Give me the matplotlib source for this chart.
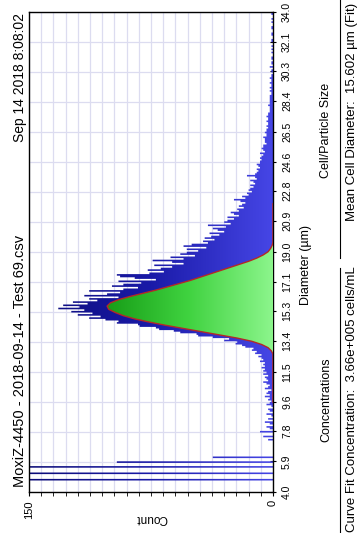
import numpy as np
import matplotlib.pyplot as plt
from matplotlib.colors import LinearSegmentedColormap
from matplotlib.patches import PathPatch
from matplotlib.lines import Line2D

plt.rcParams['font.family'] = ['Liberation Sans', 'DejaVu Sans']

# histogram: counts per 0.1 um bin, 4.0 .. 34.0
bin_start = 4.0
bin_width = 0.1
counts = [
    0, 0, 0, 0, 0, 0, 0, 300, 0, 0,                    # 4
    0, 300, 0, 0, 0, 300, 0, 0, 96, 0,                 # 5
    0, 37, 0, 0, 0, 0, 0, 0, 0, 0,                     # 6
    0, 0, 3, 0, 6, 0, 0, 8, 0, 2,                      # 7
    4, 0, 2, 5, 0, 3, 0, 1, 4, 0,                      # 8
    2, 3, 0, 1, 4, 2, 1, 3, 2, 5,                      # 9
    2, 4, 3, 1, 5, 3, 2, 4, 6, 3,                      # 10
    4, 5, 3, 6, 4, 6, 5, 7, 5, 6,                      # 11
    5, 8, 6, 7, 9, 7, 11, 10, 13, 12,                  # 12
    17, 19, 23, 22, 30, 27, 37, 46, 47, 57,            # 13
    61, 70, 72, 82, 83, 96, 95, 103, 113, 106,         # 14
    120, 111, 124, 116, 132, 119, 129, 114, 123, 108,  # 15
    113, 95, 116, 102, 94, 113, 92, 83, 99, 92,        # 16
    81, 95, 72, 85, 94, 96, 76, 67, 77, 69,            # 17
    62, 73, 55, 62, 74, 55, 63, 48, 57, 53,            # 18
    46, 53, 41, 55, 50, 40, 43, 36, 42, 38,            # 19
    33, 39, 30, 34, 37, 29, 40, 26, 30, 28,            # 20
    24, 28, 21, 24, 26, 21, 22, 18, 21, 19,            # 21
    17, 20, 24, 17, 19, 15, 16, 13, 15, 14,            # 22
    12, 14, 11, 12, 14, 10, 11, 16, 11, 10,            # 23
    9, 10, 8, 9, 10, 8, 8, 7, 8, 7,                    # 24
    6, 8, 5, 6, 7, 6, 6, 4, 5, 5,                      # 25
    5, 6, 4, 4, 5, 4, 4, 3, 4, 3,                      # 26
    3, 4, 3, 3, 4, 3, 3, 2, 2, 2,                      # 27
    2, 3, 2, 2, 2, 2, 2, 2, 1, 1,                      # 28
    2, 1, 2, 1, 1, 2, 1, 1, 2, 1,                      # 29
    1, 0, 1, 1, 0, 2, 0, 1, 1, 0,                      # 30
    1, 1, 0, 0, 1, 0, 1, 0, 1, 0,                      # 31
    0, 1, 1, 0, 0, 1, 1, 0, 0, 1,                      # 32
    1, 0, 0, 1, 0, 1, 0, 0, 1, 1,                      # 33
]

# curve fit read every 0.2 um
fit_diam = [9.6, 12.6, 12.8, 13.0, 13.2, 13.4, 13.6, 13.8, 14.0, 14.2, 14.4,
            14.6, 14.8, 15.0, 15.2, 15.4, 15.6, 15.8, 16.0, 16.2, 16.4,
            16.6, 16.8, 17.0, 17.2, 17.4, 17.6, 17.8, 18.0, 18.2, 18.4,
            18.6, 18.8, 19.0, 19.2, 19.4, 19.6, 22.0]
fit_count = [0, 0, 1, 3, 7, 13, 22, 33, 44, 55, 66,
             76, 85, 92, 97, 101, 102, 100, 95, 88, 80,
             72, 65, 58, 51, 45, 39, 33, 27, 21, 15,
             10, 6, 3, 1.5, 0.5, 0, 0]

diam_ticks = [4.0, 5.9, 7.8, 9.6, 11.5, 13.4, 15.3, 17.1, 19.0, 20.9,
              22.8, 24.6, 26.5, 28.4, 30.3, 32.1, 34.0]

title = "MoxiZ-4450 - 2018-09-14 - Test 69.csv"
stamp = "Sep 14 2018 8:08:02"

W, H = 359, 533
fig = plt.figure(figsize=(W / 100, H / 100), dpi=100)
ax = fig.add_axes([29 / W, 1 - 491.7 / H, (273 - 29) / W, (491.7 - 11.7) / H])

# grid
for d in np.linspace(4, 34, 17):
    ax.axhline(d, color='#dcdcf0', lw=0.9, zorder=0)
for c in np.arange(0, 150.1, 7.5):
    ax.axvline(c, color='#dcdcf0', lw=0.9, zorder=0)

edges = bin_start + bin_width * np.arange(len(counts) + 1)
vals = np.array(counts, dtype=float)
step_y = np.repeat(edges, 2)[1:-1]
step_x = np.repeat(vals, 2)

hist = ax.fill_betweenx(step_y, 0, step_x, color='none', lw=0)
hpatch = PathPatch(hist.get_paths()[0], transform=ax.transData, fc='none', ec='none')
ax.add_patch(hpatch)
blue = LinearSegmentedColormap.from_list('b', ['#4646e6', '#1a1aa8', '#0c0c78'])
im = ax.imshow(np.linspace(0, 1, 256)[None, :], cmap=blue, extent=[0, 150, 4, 34],
               aspect='auto', origin='lower', zorder=2)
im.set_clip_path(hpatch)

fit = ax.fill_betweenx(fit_diam, 0, fit_count, color='none', lw=0)
fpatch = PathPatch(fit.get_paths()[0], transform=ax.transData, fc='none', ec='none')
ax.add_patch(fpatch)
green = LinearSegmentedColormap.from_list('g', ['#8cf58c', '#3fd23f', '#159a15'])
im2 = ax.imshow(np.linspace(0, 1, 256)[None, :], cmap=green, extent=[0, 105, 4, 34],
                aspect='auto', origin='lower', zorder=3)
im2.set_clip_path(fpatch)
ax.plot(fit_count, fit_diam, color='#b42828', lw=1.0, zorder=4)

ax.set_xlim(150, 0)
ax.set_ylim(4, 34)

ax.set_xticks([150, 0])
ax.set_xticklabels(['150', '0'])
ax.set_xticks(np.arange(0, 150.1, 7.5), minor=True)
ax.tick_params(axis='x', which='both', direction='out', length=3, labelsize=8,
               labelrotation=90, pad=3)
ax.yaxis.tick_right()
ax.set_yticks(diam_ticks)
ax.set_yticklabels([f"{t:.1f}" for t in diam_ticks])
ax.tick_params(axis='y', direction='inout', length=5, labelsize=7.5,
               labelrotation=90, pad=4)
for lab in ax.get_yticklabels():
    lab.set_va('center')
for s in ax.spines.values():
    s.set_linewidth(1.0)

fig.text(20 / W, 1 - 487 / H, title, rotation=90, ha='center', va='bottom', fontsize=10.5)
fig.text(20 / W, 1 - 13 / H, stamp, rotation=90, ha='center', va='top', fontsize=10)
fig.text(152 / W, 1 - 518 / H, "Count", rotation=180, ha='center', va='center', fontsize=8.5)
fig.text(306 / W, 1 - 265 / H, "Diameter (µm)", rotation=90, ha='center', va='center', fontsize=9)

fig.text(326 / W, 1 - 400 / H, "Concentrations", rotation=90, ha='center', va='center', fontsize=9)
fig.text(326 / W, 1 - 130 / H, "Cell/Particle Size", rotation=90, ha='center', va='center', fontsize=9)
fig.add_artist(Line2D([340 / W] * 2, [0, 1 - 268 / H], color='black', lw=0.8))
fig.add_artist(Line2D([340 / W] * 2, [1 - 258 / H, 1], color='black', lw=0.8))
fig.text(352 / W, 1 - 532 / H, "Curve Fit Concentration:  3.66e+005 cells/mL",
         rotation=90, ha='center', va='bottom', fontsize=9.5)
fig.text(352 / W, 1 - 3 / H, "Mean Cell Diameter:  15.602 µm (Fit)",
         rotation=90, ha='center', va='top', fontsize=9.5)

fig.savefig('out.png', dpi=100)
